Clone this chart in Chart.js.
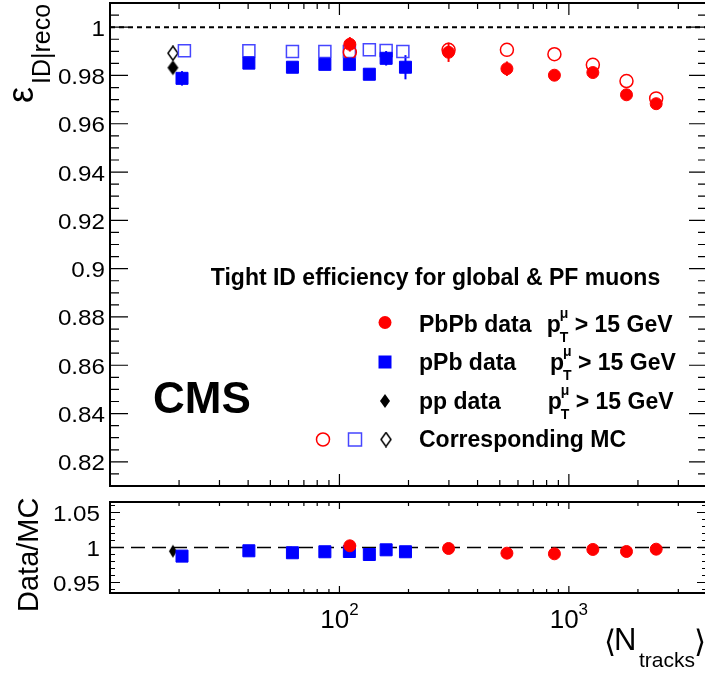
<!DOCTYPE html>
<html lang="en">
<head>
<meta charset="UTF-8">
<title>Tight ID efficiency vs Ntracks</title>
<script src="https://cdn.jsdelivr.net/npm/chart.js@4"></script>
<style>
  html, body { margin: 0; padding: 0; background: #fff; overflow: hidden; }
  #wrap { position: relative; width: 705px; height: 673px; overflow: hidden; }
  #top { position: absolute; left: 0; top: 0; }
  #bottom { position: absolute; left: 0; top: 495px; }
</style>
</head>
<body>
<div id="wrap">
  <canvas id="top" width="707" height="495"></canvas>
  <canvas id="bottom" width="707" height="178"></canvas>
</div>

<script>
  // values
  const pbpbTracks = [111, 299, 537, 865, 1272, 1783, 2402];
  const pbpbEff    = [0.9929, 0.9896, 0.9828, 0.9801, 0.9812, 0.9720, 0.9683];
  const pbpbErr    = [0.003, 0.004, 0.003, 0.001, 0.001, 0.001, 0.001];
  const pbpbMcEff  = [0.9896, 0.9906, 0.9906, 0.9888, 0.9844, 0.9777, 0.9705];
  const pbpbRatio  = [1.0024, 0.9986, 0.9919, 0.9910, 0.9972, 0.9943, 0.9976];

  const ppbTracks   = [20.6, 40.3, 62.4, 86.4, 110.5, 135, 159.8, 194];
  const ppbMcTracks = [21.1, 40.3, 62.4, 86.4, 110.5, 135, 159.8, 189];
  const ppbEff      = [0.9788, 0.9851, 0.9834, 0.9846, 0.9846, 0.9805, 0.9871, 0.9834];
  const ppbErr      = [0.003, 0.0015, 0.001, 0.001, 0.001, 0.001, 0.003, 0.005];
  const ppbMcEff    = [0.9902, 0.9902, 0.9899, 0.9899, 0.9899, 0.9906, 0.9903, 0.9899];
  const ppbRatio    = [0.9877, 0.9953, 0.9925, 0.9939, 0.9943, 0.9900, 0.9967, 0.9939];

  const ppTracks = [18.8];
  const ppEff    = [0.9832];
  const ppMcEff  = [0.9892];
  const ppRatio  = [0.9947];

  // axis ticks / labels
  const effTicks = [0.82, 0.84, 0.86, 0.88, 0.9, 0.92, 0.94, 0.96, 0.98, 1];
  const effTickLabels = ['0.82', '0.84', '0.86', '0.88', '0.9', '0.92', '0.94', '0.96', '0.98', '1'];
  const ratioTicks = [0.95, 1, 1.05];
  const ratioTickLabels = ['0.95', '1', '1.05'];
  const trackMajorTicks = [100, 1000];
  const trackTickExp = ['2', '3'];
  const trackMinorTicks = [20, 30, 40, 50, 60, 70, 80, 90, 200, 300, 400, 500, 600, 700, 800, 900, 2000, 3000];

  const effMinor = [];
  for (let k = 0; k <= 40; k++) effMinor.push(0.81 + k * 0.005);
  const ratioMinor = [];
  for (let k = 0; k <= 12; k++) ratioMinor.push(0.94 + k * 0.01);

  const RED = '#ff0000';
  const BLUE = '#0000ff';
  const OPEN_BLUE = 'rgb(70,70,255)';
  const FONT = '"Liberation Sans", Arial, Helvetica, sans-serif';

  const pairs = (xs, ys) => xs.map((x, i) => ({ x: x, y: ys[i] }));

  // narrow ROOT-like diamond marker
  function diamond(w, h, filled) {
    const c = document.createElement('canvas');
    c.width = w + 2; c.height = h + 2;
    const g = c.getContext('2d');
    g.beginPath();
    g.moveTo(c.width / 2, 1);
    g.lineTo(c.width - 1, c.height / 2);
    g.lineTo(c.width / 2, c.height - 1);
    g.lineTo(1, c.height / 2);
    g.closePath();
    if (filled) { g.fillStyle = '#000'; g.fill(); }
    else { g.strokeStyle = '#000'; g.lineWidth = 1.5; g.stroke(); }
    return c;
  }

  function text(ctx, s, x, y, size, o = {}) {
    ctx.save();
    ctx.font = (o.bold ? 'bold ' : '') + size + 'px ' + FONT;
    ctx.fillStyle = o.color || '#000';
    ctx.textAlign = o.align || 'left';
    ctx.textBaseline = 'alphabetic';
    ctx.translate(x, y);
    if (o.rotate) ctx.rotate(o.rotate);
    if (o.sx) ctx.scale(o.sx, 1);
    ctx.fillText(s, 0, 0);
    ctx.restore();
  }

  function drawErrorBars(chart) {
    const { ctx, scales: { x, y } } = chart;
    chart.data.datasets.forEach(ds => {
      if (!ds.errors) return;
      ctx.save();
      ctx.strokeStyle = ds.borderColor;
      ctx.lineWidth = 2;
      ds.data.forEach((p, i) => {
        const px = x.getPixelForValue(p.x);
        ctx.beginPath();
        ctx.moveTo(px, y.getPixelForValue(p.y - ds.errors[i]));
        ctx.lineTo(px, y.getPixelForValue(p.y + ds.errors[i]));
        ctx.stroke();
      });
      ctx.restore();
    });
  }

  // ROOT style frame: ticks inside on all four sides
  function drawFrame(chart, f) {
    const { ctx, chartArea: a, scales: { x, y } } = chart;
    ctx.save();
    ctx.strokeStyle = '#000';
    ctx.lineWidth = 1.2;
    ctx.beginPath();
    const xt = (v, len) => {
      const px = x.getPixelForValue(v);
      ctx.moveTo(px, a.top); ctx.lineTo(px, a.top + len);
      ctx.moveTo(px, a.bottom); ctx.lineTo(px, a.bottom - len);
    };
    const yt = (v, len) => {
      const py = y.getPixelForValue(v);
      ctx.moveTo(a.left, py); ctx.lineTo(a.left + len, py);
      ctx.moveTo(a.right, py); ctx.lineTo(a.right - len, py);
    };
    trackMinorTicks.forEach(v => xt(v, f.xMinor));
    trackMajorTicks.forEach(v => xt(v, f.xMajor));
    f.yMinorTicks.forEach(v => yt(v, f.yMinor));
    f.yMajorTicks.forEach(v => yt(v, f.yMajor));
    ctx.stroke();
    ctx.lineWidth = 2;
    ctx.strokeRect(a.left, a.top, a.right - a.left, a.bottom - a.top);
    ctx.restore();
    f.yMajorTicks.forEach((v, i) =>
      text(ctx, f.yLabels[i], f.labelRight, y.getPixelForValue(v) + 8.5, 22, { align: 'right', sx: 1.1 }));
  }

  function legendRow(ctx, label, y, pX) {
    text(ctx, label, 419, y, 23, { bold: true });
    text(ctx, 'p', pX, y, 23, { bold: true });
    text(ctx, 'μ', pX + 13, y - 14, 14, { bold: true });
    text(ctx, 'T', pX + 13, y + 10, 14, { bold: true });
    text(ctx, '> 15 GeV', pX + 28, y, 23, { bold: true });
  }

  const effFrame = {
    id: 'effFrame',
    beforeDatasetsDraw(chart) { drawErrorBars(chart); },
    afterDraw(chart) {
      const ctx = chart.ctx;
      drawFrame(chart, {
        yMajorTicks: effTicks, yMinorTicks: effMinor, yLabels: effTickLabels,
        yMajor: 18, yMinor: 9, xMajor: 12, xMinor: 6, labelRight: 105
      });

      // y title
      text(ctx, 'ε', 33, 103, 36, { rotate: -Math.PI / 2 });
      text(ctx, 'ID|reco', 50, 84, 25, { rotate: -Math.PI / 2 });

      text(ctx, 'CMS', 153, 413, 44, { bold: true });

      // legend
      text(ctx, 'Tight ID efficiency for global & PF muons', 435.5, 285, 23, { bold: true, align: 'center' });
      const rows = [331.5, 370, 408.5, 447];
      legendRow(ctx, 'PbPb data', rows[0], 546.7);
      legendRow(ctx, 'pPb data', rows[1], 550);
      legendRow(ctx, 'pp data', rows[2], 547.7);
      text(ctx, 'Corresponding MC', 419, rows[3], 23, { bold: true });

      ctx.save();
      let cy = rows[0] - 9;
      ctx.fillStyle = RED;
      ctx.beginPath(); ctx.arc(385, cy, 6.5, 0, 2 * Math.PI); ctx.fill();
      cy = rows[1] - 8;
      ctx.fillStyle = BLUE;
      ctx.fillRect(385 - 6.5, cy - 6.5, 13, 13);
      cy = rows[2] - 7.5;
      const dFill = diamond(10, 14, true);
      ctx.drawImage(dFill, 385 - dFill.width / 2, cy - dFill.height / 2);
      cy = rows[3] - 7.5;
      ctx.strokeStyle = RED; ctx.lineWidth = 1.5;
      ctx.beginPath(); ctx.arc(323, cy, 6.5, 0, 2 * Math.PI); ctx.stroke();
      ctx.strokeStyle = OPEN_BLUE;
      ctx.strokeRect(355 - 6.5, cy - 6.5, 13, 13);
      const dOpen = diamond(10, 14, false);
      ctx.drawImage(dOpen, 386 - dOpen.width / 2, cy - dOpen.height / 2);
      ctx.restore();
    }
  };

  const ratioFrame = {
    id: 'ratioFrame',
    afterDraw(chart) {
      const ctx = chart.ctx;
      const x = chart.scales.x;
      drawFrame(chart, {
        yMajorTicks: ratioTicks, yMinorTicks: ratioMinor, yLabels: ratioTickLabels,
        yMajor: 10, yMinor: 5, xMajor: 7, xMinor: 4, labelRight: 100
      });

      // 10^n labels
      ctx.save();
      trackMajorTicks.forEach((v, i) => {
        ctx.font = '26px ' + FONT;
        const wBase = ctx.measureText('10').width;
        ctx.font = '17px ' + FONT;
        const wExp = ctx.measureText(trackTickExp[i]).width;
        const left = x.getPixelForValue(v) - (wBase + wExp) / 2;
        text(ctx, '10', left, 628 - 495, 26);
        text(ctx, trackTickExp[i], left + wBase, 615 - 495, 17);
      });
      ctx.restore();

      // y title
      text(ctx, 'Data/MC', 38, 612 - 495, 29, { rotate: -Math.PI / 2 });

      // x title
      text(ctx, '⟨', 604, 652 - 495, 31);
      text(ctx, 'N', 614, 650 - 495, 31);
      text(ctx, 'tracks', 639, 667 - 495, 21);
      text(ctx, '⟩', 694, 652 - 495, 31);
    }
  };

  const ppDiamond = diamond(11, 15, true);
  const ppDiamondOpen = diamond(10, 14, false);
  const ppDiamondSmall = diamond(8, 13, true);

  new Chart(document.getElementById('top'), {
    type: 'scatter',
    data: {
      datasets: [
        { label: 'PbPb data', data: pairs(pbpbTracks, pbpbEff), errors: pbpbErr,
          pointStyle: 'circle', pointRadius: 6, backgroundColor: RED, borderColor: RED, borderWidth: 1 },
        { label: 'pPb data', data: pairs(ppbTracks, ppbEff), errors: ppbErr,
          pointStyle: 'rect', pointRadius: 8.5, backgroundColor: BLUE, borderColor: BLUE, borderWidth: 1 },
        { label: 'pp data', data: pairs(ppTracks, ppEff),
          pointStyle: ppDiamond, pointRadius: 5, backgroundColor: '#000', borderColor: '#000' },
        { label: 'PbPb MC', data: pairs(pbpbTracks, pbpbMcEff),
          pointStyle: 'circle', pointRadius: 6.5, backgroundColor: 'rgba(0,0,0,0)', borderColor: RED, borderWidth: 1.5 },
        { label: 'pPb MC', data: pairs(ppbMcTracks, ppbMcEff),
          pointStyle: 'rect', pointRadius: 8.5, backgroundColor: 'rgba(0,0,0,0)', borderColor: OPEN_BLUE, borderWidth: 1.5 },
        { label: 'pp MC', data: pairs(ppTracks, ppMcEff),
          pointStyle: ppDiamondOpen, pointRadius: 5, backgroundColor: 'rgba(0,0,0,0)', borderColor: '#000' },
        { label: 'unity', type: 'line', showLine: true, data: [{ x: 10, y: 1 }, { x: 4000, y: 1 }],
          borderColor: '#000', borderWidth: 2, borderDash: [5, 4], pointRadius: 0, fill: false }
      ]
    },
    options: {
      responsive: false,
      animation: false,
      layout: { autoPadding: false, padding: { left: 110, right: 0, top: 3, bottom: 9 } },
      scales: {
        x: { type: 'logarithmic', min: 10, max: 4000, display: false },
        y: { min: 0.81, max: 1.01, display: false }
      },
      plugins: { legend: { display: false }, tooltip: { enabled: false } }
    },
    plugins: [effFrame]
  });

  new Chart(document.getElementById('bottom'), {
    type: 'scatter',
    data: {
      datasets: [
        { label: 'PbPb', data: pairs(pbpbTracks, pbpbRatio),
          pointStyle: 'circle', pointRadius: 6, backgroundColor: RED, borderColor: RED, borderWidth: 1 },
        { label: 'pPb', data: pairs(ppbTracks, ppbRatio),
          pointStyle: 'rect', pointRadius: 8.5, backgroundColor: BLUE, borderColor: BLUE, borderWidth: 1 },
        { label: 'pp', data: pairs(ppTracks, ppRatio),
          pointStyle: ppDiamondSmall, pointRadius: 5, backgroundColor: '#000', borderColor: '#000' },
        { label: 'unity', type: 'line', showLine: true, data: [{ x: 10, y: 1 }, { x: 4000, y: 1 }],
          borderColor: '#000', borderWidth: 1.3, borderDash: [14, 7], pointRadius: 0, fill: false }
      ]
    },
    options: {
      responsive: false,
      animation: false,
      layout: { autoPadding: false, padding: { left: 110, right: 0, top: 7, bottom: 80 } },
      scales: {
        x: { type: 'logarithmic', min: 10, max: 4000, display: false },
        y: { min: 0.935, max: 1.065, display: false }
      },
      plugins: { legend: { display: false }, tooltip: { enabled: false } }
    },
    plugins: [ratioFrame]
  });
</script>
</body>
</html>
